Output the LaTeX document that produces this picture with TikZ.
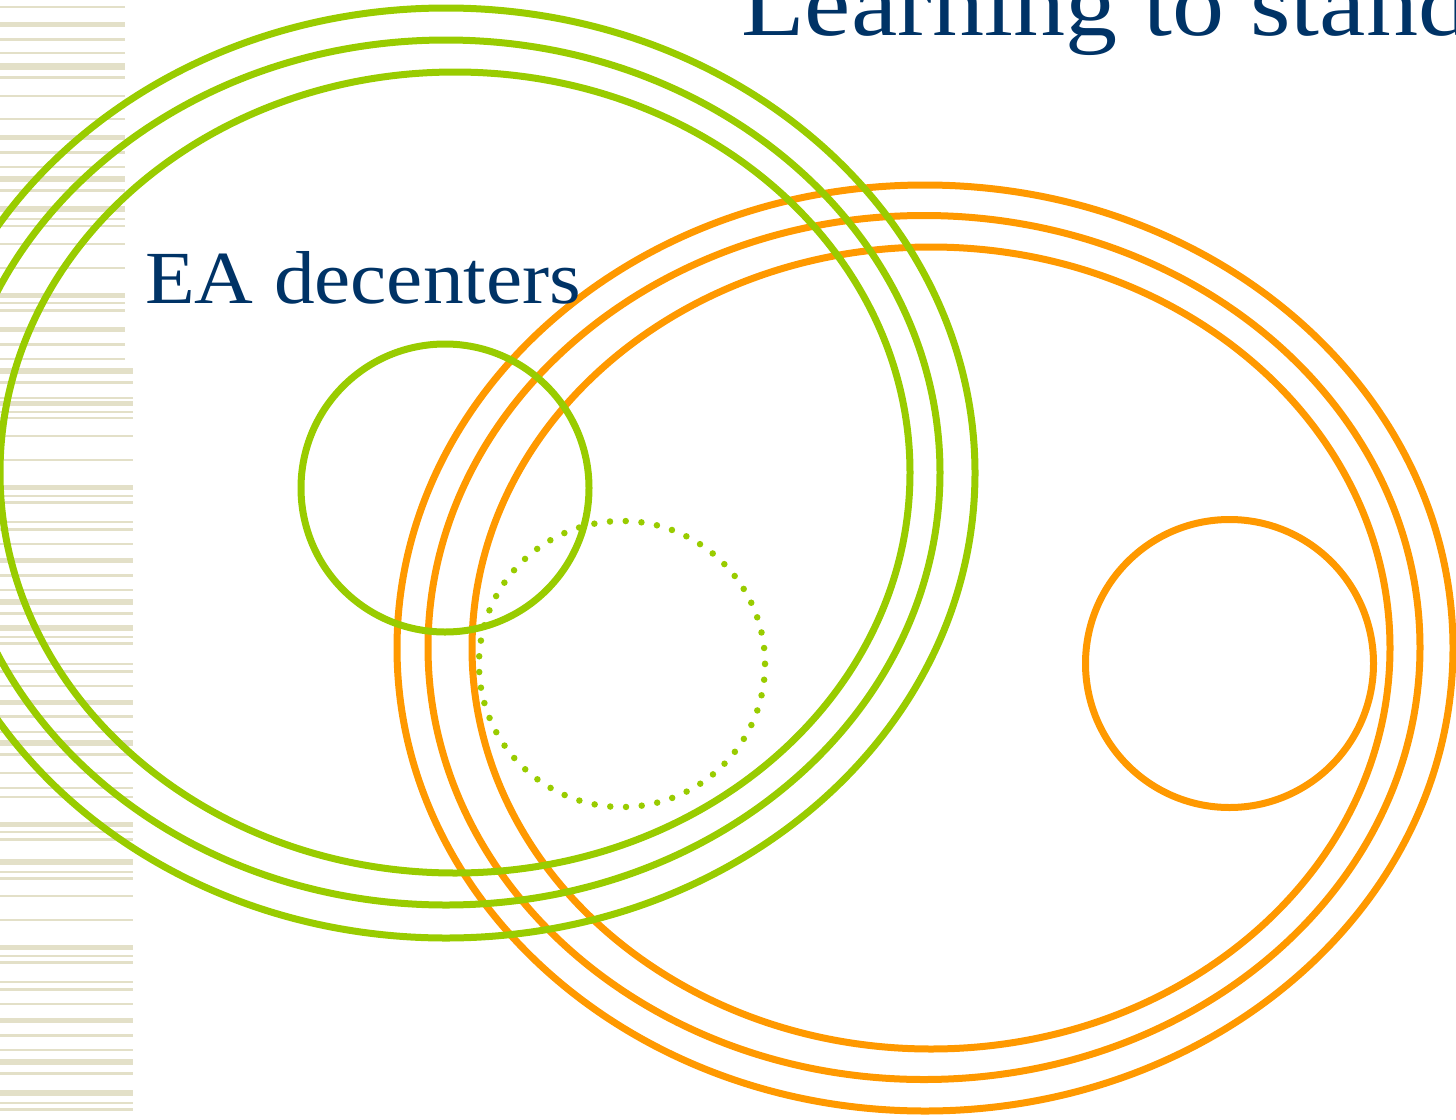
\documentclass[tikz,border=0pt]{standalone}
\usepackage{fontspec}
\setmainfont{Liberation Serif}
\definecolor{lgreen}{HTML}{99CC00}
\definecolor{lorange}{HTML}{FF9900}
\definecolor{dblue}{HTML}{003366}
\definecolor{stripec}{HTML}{E3E0C8}
\begin{document}
\begin{tikzpicture}[x=1pt,y=-1pt,
  ring/.style={line width=7pt},
  gring/.style={ring,draw=lgreen},
  oring/.style={ring,draw=lorange},
  dotring/.style={line width=6.5pt,draw=lgreen,line cap=round,dash pattern=on 0pt off 15.76pt},
  stripe/.style={fill=stripec},
  label/.style={text=dblue,inner sep=0pt,anchor=base west,transform shape}]
\useasboundingbox (0,0) rectangle (1456,1119);
\clip (0,0) rectangle (1456,1119);
% stripes
\foreach \yy/\tt in {7/2,24/5,39/3,53/2,66/7,77/3,96/2,119/2,137/5,152/3,167/2,179/6,190/3,209/6,219/2,226/2,244/2,268/2,295/5,303/2,310/3,329/5,344/3,359/2}
  \fill[stripe] (0,\yy-\tt/2) rectangle (125,\yy+\tt/2);
\foreach \yy/\tt in {371/6,382/3,398/2,403/5,412/2,418/2,436/2,460/2,487/5,496/2,502/3,522/2,529/3,544/2,560/5,575/3,590/2,602/6,613/3,628/6,637/2,643/3,664/2,671/3,686/2,702/5,716/3,732/2,743/6,754/3,773/2,788/2,797/2,824/5,832/2,839/3,862/6,872/2,878/3,896/2,920/2,947/5,956/2,962/3,982/2,989/3,1004/2,1020/5,1035/3,1050/2,1062/6,1073/3,1093/6,1103/2,1109/3}
  \fill[stripe] (0,\yy-\tt/2) rectangle (133,\yy+\tt/2);
% dotted circle
\draw[dotring] (622,664) circle[radius=143];
% orange rings
\draw[oring] (925,648) ellipse[x radius=528,y radius=463];
\draw[oring] (924,647.5) ellipse[x radius=496,y radius=432];
\draw[oring] (931,648) ellipse[x radius=459,y radius=401];
\draw[oring] (1229.5,663.5) circle[radius=144];
% green rings
\draw[gring] (446,473) ellipse[x radius=529,y radius=465];
\draw[gring] (446,472.5) ellipse[x radius=494,y radius=432.5];
\draw[gring] (455,472.5) ellipse[x radius=455,y radius=400.5];
\draw[gring] (445,488) circle[radius=144];
% texts
\node[label,xscale=1.085,font=\fontsize{75}{90}\selectfont] (ea) at (145,303) {EA decenters};
\node[label,xscale=1.12,font=\fontsize{93}{110}\selectfont] (title) at (741,35) {Learning to stand};
\end{tikzpicture}
\end{document}
